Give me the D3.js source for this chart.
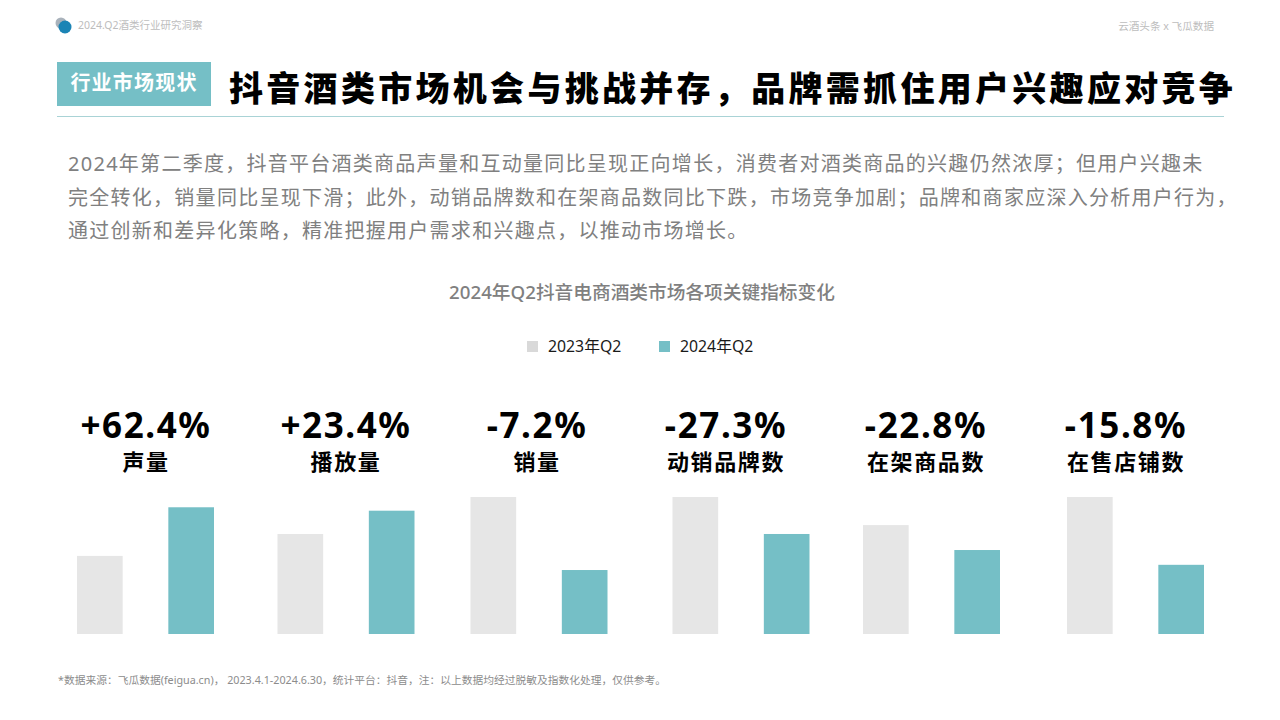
<!DOCTYPE html>
<html>
<head>
<meta charset="utf-8">
<script src="https://cdn.jsdelivr.net/npm/d3@7/dist/d3.min.js"></script>
<style>
  html, body { margin: 0; padding: 0; background: #fff; overflow: hidden; }
  text { font-family: "Noto Sans", "Noto Sans CJK SC", sans-serif; }
</style>
</head>
<body>
<svg id="chart" width="1280" height="720"></svg>
<script>
var categories = ["声量", "播放量", "销量", "动销品牌数", "在架商品数", "在售店铺数"];
var changes = ["+62.4%", "+23.4%", "-7.2%", "-27.3%", "-22.8%", "-15.8%"];
var seriesNames = ["2023年Q2", "2024年Q2"];
// index, tallest bar = 100
var values2023 = [57, 73, 100, 100, 79.5, 100];
var values2024 = [92.5, 90, 46.7, 73, 61.3, 50.5];

var paragraph = [
  "2024年第二季度，抖音平台酒类商品声量和互动量同比呈现正向增长，消费者对酒类商品的兴趣仍然浓厚；但用户兴趣未",
  "完全转化，销量同比呈现下滑；此外，动销品牌数和在架商品数同比下跌，市场竞争加剧；品牌和商家应深入分析用户行为，",
  "通过创新和差异化策略，精准把握用户需求和兴趣点，以推动市场增长。"
];

var teal = "#75bfc6";
var grey = "#e6e6e6";

var svg = d3.select("#chart");

// the groups are not evenly spaced in the slide, so these are ordinal
var barCentre = d3.scaleOrdinal().domain(categories)
  .range([145.5, 346, 539, 741, 931.5, 1135.5]);
var labelCentre = d3.scaleOrdinal().domain(categories)
  .range([146, 346, 537, 726, 926, 1126]);
var series = d3.scaleBand().domain(seriesNames).range([-68.5, 68.5]).paddingInner(0.5).paddingOuter(0);
var y = d3.scaleLinear().domain([0, 100]).range([634, 497]);

function addText(x, yPos, str, size, fill, weight, anchor, spacing) {
  return svg.append("text")
    .attr("x", x)
    .attr("y", yPos)
    .attr("font-size", size)
    .attr("font-weight", weight || 400)
    .attr("text-anchor", anchor || "start")
    .attr("letter-spacing", spacing || 0)
    .attr("fill", fill)
    .text(str);
}

// page header
svg.append("circle").attr("cx", 61).attr("cy", 23).attr("r", 5.5).attr("fill", "#a9b2bb");
svg.append("circle").attr("cx", 65).attr("cy", 27).attr("r", 6.5).attr("fill", "#1b84b5");
addText(78, 29, "2024.Q2酒类行业研究洞察", 10.5, "#bdbdbd");
addText(1214, 30, "云酒头条 x 飞瓜数据", 10.6, "#bdbdbd", 400, "end");

// title row
svg.append("rect").attr("x", 57).attr("y", 62).attr("width", 154).attr("height", 44).attr("fill", teal);
addText(134, 90, "行业市场现状", 20, "#fff", 700, "middle", 1.2);
addText(229, 101, "抖音酒类市场机会与挑战并存，品牌需抓住用户兴趣应对竞争", 34, "#000", 900, "start", 3.3);
svg.append("line").attr("x1", 57).attr("x2", 1224).attr("y1", 116.5).attr("y2", 116.5)
  .attr("stroke", "#a9d3d6").attr("stroke-width", 1);

// intro text
svg.append("g").selectAll("text").data(paragraph).join("text")
  .attr("x", 68)
  .attr("y", function (d, i) { return 171 + i * 33.5; })
  .attr("font-size", 20)
  .attr("letter-spacing", 1.27)
  .attr("fill", "#808080")
  .text(function (d) { return d; });

// chart title + legend
addText(642, 299, "2024年Q2抖音电商酒类市场各项关键指标变化", 18.7, "#808080", 500, "middle");
var legendX = d3.scaleOrdinal().domain(seriesNames).range([527, 659]);
var legendColor = d3.scaleOrdinal().domain(seriesNames).range(["#d9d9d9", teal]);
seriesNames.forEach(function (name) {
  svg.append("rect").attr("x", legendX(name)).attr("y", 341)
    .attr("width", 11).attr("height", 11).attr("fill", legendColor(name));
  addText(legendX(name) + 21, 352, name, 15.8, "#1a1a1a");
});

// headline numbers
svg.append("g").selectAll("text").data(categories).join("text")
  .attr("x", function (d) { return labelCentre(d); })
  .attr("y", 438)
  .attr("text-anchor", "middle")
  .attr("font-size", 35)
  .attr("font-weight", 700)
  .attr("letter-spacing", 1.6)
  .attr("fill", "#000")
  .text(function (d, i) { return changes[i]; });
svg.append("g").selectAll("text").data(categories).join("text")
  .attr("x", function (d) { return labelCentre(d); })
  .attr("y", 470)
  .attr("text-anchor", "middle")
  .attr("font-size", 22)
  .attr("font-weight", 700)
  .attr("letter-spacing", 1.6)
  .attr("fill", "#000")
  .text(function (d) { return d; });

// bars
var rows = categories.map(function (c, i) {
  return [
    { cat: c, name: seriesNames[0], value: values2023[i], color: grey },
    { cat: c, name: seriesNames[1], value: values2024[i], color: teal }
  ];
});
svg.append("g").selectAll("rect").data(d3.merge(rows)).join("rect")
  .attr("x", function (d) { return barCentre(d.cat) + series(d.name); })
  .attr("y", function (d) { return y(d.value); })
  .attr("width", series.bandwidth())
  .attr("height", function (d) { return y(0) - y(d.value); })
  .attr("fill", function (d) { return d.color; });

// source note
addText(58, 684, "*数据来源：飞瓜数据(feigua.cn)， 2023.4.1-2024.6.30，统计平台：抖音，注：以上数据均经过脱敏及指数化处理，仅供参考。", 10.75, "#8c8c8c");
</script>
</body>
</html>
